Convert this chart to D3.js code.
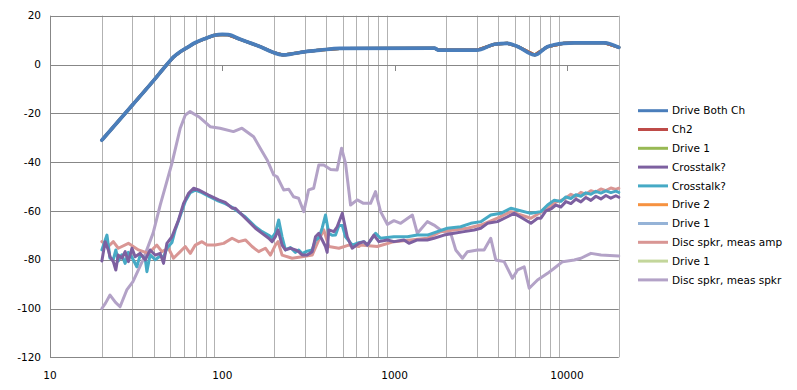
<!DOCTYPE html>
<html>
<head>
<meta charset="utf-8">
<script src="https://cdn.jsdelivr.net/npm/d3@7"></script>
<style>
  body { margin: 0; background: #fff; }
  svg text { font-family: "DejaVu Sans", sans-serif; font-size: 10.5px; fill: #000; }
</style>
</head>
<body>
<script>
// series names in legend order (Excel default palette)
var names = ["Drive Both Ch", "Ch2", "Drive 1", "Crosstalk?", "Crosstalk?", "Drive 2", "Drive 1", "Disc spkr, meas amp", "Drive 1", "Disc spkr, meas spkr"];
var colors = ["#4a7ebb", "#be4b48", "#98b954", "#7d60a0", "#46aac5", "#f69240", "#95b3d7", "#d99694", "#c3d69b", "#b3a2c7"];

var xTicks = [10, 100, 1000, 10000];
var yTicks = [20, 0, -20, -40, -60, -80, -100, -120];

// Drive Both Ch (Ch2 and the Drive series sit under it)
var bothHz = [20, 30, 40, 47, 52, 57, 62, 70, 80, 90, 100, 108, 127, 166, 200, 225, 260, 300, 370, 480, 1700, 1800, 3000, 3800, 4500, 5200, 6500, 7700, 9600, 11000, 16500, 20000];
var bothDb = [-31, -16.7, -6.5, -0.5, 3, 5.2, 6.8, 9, 10.7, 12, 12.3, 12.2, 10.3, 7.3, 4.8, 3.9, 4.5, 5.2, 5.9, 6.6, 6.7, 5.9, 5.9, 8.3, 8.7, 7.3, 3.9, 7.3, 8.7, 8.9, 8.9, 7.0];

// Crosstalk? (purple)
var xtalkAHz = [20, 20.9, 21.8, 22.3, 23.3, 24.1, 24.9, 26.1, 27.3, 28.5, 29.9, 31.2, 33.4, 35.7, 38.1, 40.8, 43.6, 45.6, 47.7, 51, 55.7, 59.6, 63.7, 68.1, 72.8, 83.2, 95.2, 104, 113.9, 119, 136.1, 155.6, 170.2, 185.9, 194.5, 203.2, 210.6, 222.3, 232.4, 248.5, 265.7, 277.7, 290.6, 310.8, 332.3, 347.3, 363, 380, 397, 406, 415, 444, 464, 497, 531, 567, 620, 663, 694, 758, 810, 907, 991, 1133, 1211, 1355, 1549, 1692, 1935, 2212, 2529, 2892, 3162, 3459, 3953, 4519, 4939, 5527, 6177, 6753, 7063, 7551, 8072, 8630, 9226, 9863, 10544, 11272, 12050, 12882, 13771, 14722, 15738, 16825, 17987, 19229, 20000];
var xtalkADb = [-80.5, -72.6, -76, -78.8, -80.8, -84.2, -78.1, -79.4, -76.7, -80.8, -75.3, -78.8, -77.4, -80.1, -76, -78.1, -77.4, -81.5, -73.3, -70.6, -63.7, -56.9, -52.8, -50.7, -51.4, -53.5, -55.5, -56.5, -58.9, -58.9, -63, -67.1, -69.2, -71.2, -72.6, -70.6, -67.8, -74, -76, -75.3, -76, -76.7, -78.1, -78.1, -76.7, -70.6, -69.2, -71.9, -74.6, -77, -67.8, -68.5, -66.5, -61, -70.6, -75.3, -73.3, -72.6, -74, -69.9, -72.6, -71.9, -72.6, -71.9, -73.3, -71.9, -71.9, -71.2, -69.9, -69.2, -68.5, -67.8, -67.1, -65.1, -64.4, -62.4, -61, -63, -65.1, -63, -63, -60, -59.2, -57.6, -58.4, -56.2, -57, -55.2, -56.3, -54.5, -55.7, -54, -55.1, -53.7, -54.8, -53.8, -54.4];

// Crosstalk? (teal)
var xtalkBHz = [20, 20.9, 21.4, 22.3, 23.3, 24.1, 24.9, 26.1, 27.3, 28.5, 29.9, 31.9, 33.4, 35.7, 36.5, 38.1, 40.8, 43.6, 45.6, 47.7, 51, 53.3, 57, 61, 65.2, 69.7, 76.2, 83.2, 95.2, 104, 113.9, 124.4, 136.1, 155.6, 170.2, 185.9, 194.5, 203.2, 212.5, 222.3, 232.4, 248.5, 265.7, 277.7, 290.6, 310.8, 332.3, 347.3, 363, 380, 397, 415, 434, 454, 475, 497, 519, 567, 620, 663, 694, 775, 829, 991, 1186, 1355, 1549, 1770, 2024, 2419, 2767, 3162, 3614, 4132, 4725, 5169, 6177, 7063, 7722, 8442, 9226, 9863, 10544, 11272, 12050, 12882, 13771, 14722, 15738, 16825, 17987, 19229, 20000];
var xtalkBDb = [-76, -72, -69.9, -79.4, -80, -76, -80.5, -78, -81.5, -77, -79, -82.9, -78, -79.5, -84.9, -78, -80, -78.5, -79, -75.3, -73, -67.8, -62, -56, -52.5, -51.5, -52.5, -54, -56, -57, -58.5, -60.5, -62.5, -66.5, -68.5, -70, -71, -69, -63.7, -70.6, -76, -75, -77, -76, -77.5, -76.5, -76, -72, -71, -67, -61.7, -69.2, -70, -69.9, -66, -66, -70.6, -74, -73, -72.6, -74, -69.2, -71.2, -70.6, -70.6, -69.9, -69.9, -68.5, -67.1, -66.5, -65.1, -64.4, -61.7, -61, -58.9, -59.6, -61, -60.3, -57.6, -55.6, -56.1, -54.3, -54.9, -53.4, -54, -52.6, -53.2, -52, -52.7, -51.8, -52.5, -51.9, -52.4];

// Disc spkr, meas amp
var ampHz = [20, 21.8, 23.3, 24.9, 28.5, 32.6, 37.3, 41.7, 44.6, 48.7, 52.1, 57, 61, 65.2, 69.7, 76.2, 81.5, 91, 101.8, 113.9, 124.4, 136.1, 148.8, 162.6, 177.8, 190.2, 203.2, 210.6, 222.3, 254.2, 290.6, 332.3, 363, 388, 415, 475, 542, 620, 634, 793, 991, 1239, 1549, 1851, 2212, 2647, 3162, 3953, 4725, 6177, 7722, 8630, 9646, 10544, 11272, 12050, 12882, 13771, 14722, 15738, 16825, 17987, 19229, 20000];
var ampDb = [-72.6, -74.6, -72.6, -75.3, -73.3, -76, -77.4, -74, -76.7, -75.3, -79.4, -76.7, -74.6, -77.4, -74, -72.6, -74, -74, -73.3, -71.2, -72.6, -71.9, -74.6, -76.7, -75.3, -78.1, -74, -72.6, -78.1, -79.4, -78.8, -78.1, -71.9, -67.8, -74.6, -75.3, -74, -74.6, -74, -74.6, -72.6, -71.9, -71.2, -68.5, -67.8, -67.1, -65.8, -63, -60.3, -63, -58.9, -56.4, -55.2, -53.2, -54.1, -52.4, -53.2, -51.7, -52.3, -51, -51.7, -50.6, -51.2, -50.7];

// Disc spkr, meas spkr
var spkrHz = [20, 21, 22.3, 24, 25.5, 27.9, 30.3, 34.7, 39.7, 43.6, 51, 57, 61, 65, 73, 85, 97, 116, 130, 152, 166, 182, 199, 208, 227, 243, 259, 277, 297, 317, 339, 363, 388, 425, 464, 492, 519, 555, 607, 660, 725, 775, 829, 907, 991, 1084, 1268, 1355, 1549, 1692, 1850, 2117, 2263, 2475, 2647, 3027, 3306, 3614, 3865, 4320, 4830, 5170, 5650, 6040, 6750, 7720, 8440, 9440, 11030, 12050, 13790, 15770, 20000];
var spkrDb = [-100, -97.8, -94.5, -97.5, -99.3, -92.4, -89, -80, -69, -57.6, -40.5, -26.1, -20.7, -19.3, -21.4, -25.5, -26.1, -27.5, -26.1, -29.6, -34.3, -39.1, -45.3, -46, -51.4, -51.1, -54.2, -54.8, -60.3, -51.4, -50.7, -41.2, -41.2, -43, -43.2, -34.3, -40.5, -57.6, -55.5, -56.9, -56.9, -52.1, -60.3, -65.5, -64, -65.1, -61.7, -69.2, -64.4, -65.8, -67.8, -69.2, -76, -79.4, -76.7, -76, -76, -71.2, -80.1, -80.8, -87.6, -84.2, -82.9, -91.7, -88.3, -85.6, -83.5, -80.8, -80.1, -79.4, -77.4, -78.1, -78.5];

var seriesHz = [bothHz, bothHz, bothHz, xtalkAHz, xtalkBHz, bothHz, bothHz, ampHz, bothHz, spkrHz];
var seriesDb = [bothDb, bothDb, bothDb, xtalkADb, xtalkBDb, bothDb, bothDb, ampDb, bothDb, spkrDb];

var svg = d3.select("body").append("svg")
    .attr("width", 797)
    .attr("height", 390);

var x = d3.scaleLog().domain([10, 20000]).range([50, 618.8]);
var y = d3.scaleLinear().domain([-120, 20]).range([357.3, 15.7]);

// minor vertical gridlines (2..9 of each decade, plus 20000)
var minor = [];
xTicks.forEach(function(d) {
  for (var m = 2; m <= 9; m++) {
    if (d * m <= 20000) minor.push(d * m);
  }
});

svg.append("g").selectAll("line")
    .data(minor)
    .enter().append("line")
    .attr("x1", function(d) { return Math.round(x(d)) + 0.5; })
    .attr("x2", function(d) { return Math.round(x(d)) + 0.5; })
    .attr("y1", y(20))
    .attr("y2", y(-120))
    .attr("stroke", "#b2b2b2")
    .attr("stroke-width", 1);

svg.append("g").selectAll("line")
    .data(yTicks)
    .enter().append("line")
    .attr("x1", 50)
    .attr("x2", 618.8)
    .attr("y1", function(d) { return Math.round(y(d)) + 0.5; })
    .attr("y2", function(d) { return Math.round(y(d)) + 0.5; })
    .attr("stroke", "#878787")
    .attr("stroke-width", 1);

// y axis line
svg.append("line")
    .attr("x1", 50.5).attr("x2", 50.5)
    .attr("y1", y(20)).attr("y2", y(-120))
    .attr("stroke", "#878787");

// major tick marks on the 0 line
svg.append("g").selectAll("line")
    .data(xTicks.slice(1))
    .enter().append("line")
    .attr("x1", function(d) { return Math.round(x(d)) + 0.5; })
    .attr("x2", function(d) { return Math.round(x(d)) + 0.5; })
    .attr("y1", Math.round(y(0)))
    .attr("y2", Math.round(y(0)) + 6)
    .attr("stroke", "#878787");

svg.append("g").selectAll("text")
    .data(yTicks)
    .enter().append("text")
    .attr("x", 41)
    .attr("y", function(d) { return y(d); })
    .attr("dy", "0.36em")
    .attr("text-anchor", "end")
    .text(function(d) { return d; });

svg.append("g").selectAll("text")
    .data(xTicks)
    .enter().append("text")
    .attr("x", function(d) { return x(d); })
    .attr("y", 379)
    .attr("text-anchor", "middle")
    .text(function(d) { return d; });

var line = d3.line()
    .x(function(d) { return x(d[0]); })
    .y(function(d) { return y(d[1]); });

// Excel puts the first series on top, so draw from the last one
for (var i = names.length - 1; i >= 0; i--) {
  var pts = seriesHz[i].map(function(f, j) { return [f, seriesDb[i][j]]; });
  line.curve(i == 0 ? d3.curveMonotoneX : d3.curveLinear);
  svg.append("path")
      .attr("d", line(pts))
      .attr("fill", "none")
      .attr("stroke", colors[i])
      .attr("stroke-width", i == 0 ? 3.75 : 3)
      .attr("stroke-linejoin", "round")
      .attr("stroke-linecap", "round");
}

// legend
var legend = svg.append("g").selectAll("g")
    .data(names)
    .enter().append("g")
    .attr("transform", function(d, i) { return "translate(638," + (110.7 + i * 18.8) + ")"; });

legend.append("line")
    .attr("x1", 0).attr("x2", 30)
    .attr("stroke", function(d, i) { return colors[i]; })
    .attr("stroke-width", 3);

legend.append("text")
    .attr("x", 34)
    .attr("dy", "0.36em")
    .text(function(d) { return d; });
</script>
</body>
</html>
